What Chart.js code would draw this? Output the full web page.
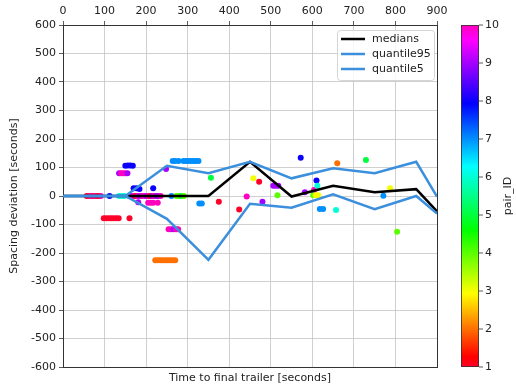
<!DOCTYPE html>
<html>
<head>
<meta charset="utf-8">
<script src="https://cdn.jsdelivr.net/npm/chart.js@4.4.1/dist/chart.umd.min.js"></script>
<style>
  body { margin: 0; background: #fff; }
  canvas { display: block; }
</style>
</head>
<body>
<canvas id="spacingChart" width="516" height="392"></canvas>
<script>
// Binned statistics (time to final trailer, seconds)
const binTimes = [0, 50, 150, 250, 350, 450, 550, 650, 750, 850, 900];
const medians = [0, 0, 0, 0, 0, 120, -2, 36, 13, 24, -54];
const quantile95 = [0, 0, 0, 106, 80, 120, 62, 97, 80, 120, -2];
const quantile5 = [0, 0, 0, -80, -224, -27, -41, 6, -46, 0, -62];

// Individual observations
const pointTime = [
    57, 62, 67, 72, 77, 82, 87, 91,
    112, 135, 142, 148,
    150, 156, 162, 168,
    135, 140, 145, 150, 155,
    170, 177, 184, 217,
    160, 165, 170, 175, 180, 185, 190, 195, 200, 205, 210, 215, 220, 225, 230, 235,
    261, 273, 279, 285, 291,
    181, 205, 211, 217, 228,
    98, 104, 110, 116, 122, 128, 134, 160,
    264, 270, 278, 290, 296, 302, 308, 314, 320, 326,
    248, 356,
    254, 260, 266, 272, 277,
    222, 228, 234, 240, 246, 252, 258, 264, 270,
    328, 334, 375, 424, 442,
    458, 472, 506, 512, 518, 516, 480,
    572, 660, 610, 604, 582, 612, 602, 608, 614, 618, 626, 657,
    729, 787, 771, 804
];
const pointDev = [
    0, 0, 0, 0, 0, 0, 0, 0,
    0, 0, 0, 0,
    106, 107, 107, 106,
    80, 80, 80, 80, 80,
    27, 27, 25, 27,
    0, 0, 0, 0, 0, 0, 0, 0, 0, 0, 0, 0, 0, 0, 0, 0,
    0, 0, 0, 0, 0,
    -22, -24, -24, -24, -24,
    -78, -78, -78, -78, -78, -78, -78, -78,
    123, 123, 123, 123, 123, 123, 123, 123, 123, 123,
    95, 64,
    -117, -117, -117, -117, -117,
    -225, -225, -225, -225, -225, -225, -225, -225, -225,
    -26, -26, -20, -47, -2,
    62, 50, 36, 36, 36, 3, -20,
    134, 115, 54, 21, 13, 36, 3, 3, 3, -46, -46, -49,
    126, 27, 1, -125
];
const pointPair = [
    1, 1, 10, 1, 10, 1, 1, 10,
    8, 6, 6, 6,
    8, 8, 8, 8,
    9, 10, 10, 10, 9,
    8, 8, 8, 8,
    10, 9, 10, 1, 10, 9, 10, 10, 9, 10, 1, 9, 10, 9, 9, 10,
    7, 4, 4, 5, 4,
    9, 10, 10, 10, 10,
    1, 1, 1, 1, 1, 1, 1, 1,
    7, 7, 7, 7, 7, 7, 7, 7, 7, 7,
    9, 5,
    10, 10, 9, 10, 10,
    2, 2, 2, 2, 2, 2, 2, 2, 2,
    7, 7, 1, 1, 10,
    3, 1, 9, 9, 9, 4, 9,
    8, 2, 8, 10, 9, 6, 4, 3, 3, 7, 7, 6,
    5, 3, 7, 4
];

const xTicks = [0, 100, 200, 300, 400, 500, 600, 700, 800, 900];
const cbarTicks = [1, 2, 3, 4, 5, 6, 7, 8, 9, 10];
const pairMin = 1, pairMax = 10;

// gist_rainbow colour stops
const rainbowStops = [
    [0.000, [1.00, 0.00, 0.16]],
    [0.030, [1.00, 0.00, 0.00]],
    [0.215, [1.00, 1.00, 0.00]],
    [0.400, [0.00, 1.00, 0.00]],
    [0.586, [0.00, 1.00, 1.00]],
    [0.770, [0.00, 0.00, 1.00]],
    [0.954, [1.00, 0.00, 1.00]],
    [1.000, [1.00, 0.00, 0.75]]
];

function rgbStr(c) {
    return 'rgb(' + c.map(v => Math.round(v * 255)).join(',') + ')';
}

function pairColor(p) {
    const t = Math.min(1, Math.max(0, (p - pairMin) / (pairMax - pairMin)));
    for (let i = 1; i < rainbowStops.length; i++) {
        const [t0, c0] = rainbowStops[i - 1];
        const [t1, c1] = rainbowStops[i];
        if (t <= t1) {
            const f = (t - t0) / (t1 - t0);
            return rgbStr(c0.map((v, k) => v + (c1[k] - v) * f));
        }
    }
    return rgbStr(rainbowStops[rainbowStops.length - 1][1]);
}

const LINE_BLUE = '#3c8fdc';
const AXIS_COLOR = '#333';
const TEXT_COLOR = '#222';

Chart.defaults.font.family = "'DejaVu Sans', sans-serif";
Chart.defaults.font.size = 11;
Chart.defaults.color = TEXT_COLOR;

// Right spine, legend box and colour bar
const decorPlugin = {
    id: 'decor',
    afterDraw(chart) {
        const ctx = chart.ctx;
        const area = chart.chartArea;

        ctx.save();
        ctx.strokeStyle = AXIS_COLOR;
        ctx.lineWidth = 1;
        ctx.beginPath();
        ctx.moveTo(area.right + 0.5, area.top);
        ctx.lineTo(area.right + 0.5, area.bottom);
        ctx.stroke();

        // legend
        const lineSets = chart.data.datasets.filter(ds => ds.showLine);
        const bx = 337, by = 30, bw = 97, bh = 50;
        ctx.fillStyle = 'rgba(255,255,255,0.85)';
        ctx.strokeStyle = '#d5d5d5';
        ctx.lineWidth = 1;
        ctx.beginPath();
        ctx.roundRect(bx + 0.5, by + 0.5, bw, bh, 3);
        ctx.fill();
        ctx.stroke();
        ctx.font = "11px 'DejaVu Sans', sans-serif";
        ctx.textBaseline = 'middle';
        ctx.textAlign = 'left';
        lineSets.forEach((ds, i) => {
            const ry = 39 + i * 15;
            ctx.strokeStyle = ds.borderColor;
            ctx.lineWidth = 2.5;
            ctx.beginPath();
            ctx.moveTo(341, ry);
            ctx.lineTo(365, ry);
            ctx.stroke();
            ctx.fillStyle = TEXT_COLOR;
            ctx.fillText(ds.label, 372, ry);
        });

        // colour bar
        const cx = 461, cw = 18, ctop = area.top, cbot = area.bottom;
        const grad = ctx.createLinearGradient(0, cbot, 0, ctop);
        rainbowStops.forEach(([t, c]) => grad.addColorStop(t, rgbStr(c)));
        ctx.fillStyle = grad;
        ctx.fillRect(cx, ctop, cw, cbot - ctop);
        ctx.strokeStyle = AXIS_COLOR;
        ctx.lineWidth = 0.8;
        ctx.strokeRect(cx + 0.5, ctop + 0.5, cw - 1, cbot - ctop - 1);
        ctx.fillStyle = TEXT_COLOR;
        ctx.textAlign = 'left';
        cbarTicks.forEach(v => {
            const ty = cbot - (v - pairMin) / (pairMax - pairMin) * (cbot - ctop);
            ctx.beginPath();
            ctx.moveTo(cx + cw, ty);
            ctx.lineTo(cx + cw + 4, ty);
            ctx.stroke();
            ctx.fillText(String(v), cx + cw + 6, ty);
        });
        ctx.translate(508, (ctop + cbot) / 2);
        ctx.rotate(-Math.PI / 2);
        ctx.textAlign = 'center';
        ctx.fillText('pair_ID', 0, 0);
        ctx.restore();
    }
};

const toPoints = ys => binTimes.map((t, i) => ({ x: t, y: ys[i] }));

const ctx = document.getElementById('spacingChart').getContext('2d');
new Chart(ctx, {
    type: 'scatter',
    data: {
        datasets: [
            {
                label: 'medians',
                data: toPoints(medians),
                showLine: true,
                borderColor: '#000',
                borderWidth: 2.5,
                pointRadius: 0,
                order: 2
            },
            {
                label: 'quantile95',
                data: toPoints(quantile95),
                showLine: true,
                borderColor: LINE_BLUE,
                borderWidth: 2.5,
                pointRadius: 0,
                order: 1
            },
            {
                label: 'quantile5',
                data: toPoints(quantile5),
                showLine: true,
                borderColor: LINE_BLUE,
                borderWidth: 2.5,
                pointRadius: 0,
                order: 0
            },
            {
                label: 'pairs',
                data: pointTime.map((t, i) => ({ x: t, y: pointDev[i] })),
                pointBackgroundColor: pointPair.map(pairColor),
                pointBorderWidth: 0,
                pointRadius: 3,
                order: 3
            }
        ]
    },
    options: {
        responsive: false,
        animation: false,
        devicePixelRatio: 1,
        layout: { padding: { right: 79 } },
        plugins: {
            legend: { display: false },
            tooltip: { enabled: false }
        },
        scales: {
            x: {
                type: 'linear',
                position: 'top',
                min: 0,
                max: 900,
                afterBuildTicks: s => { s.ticks = xTicks.map(v => ({ value: v })); },
                afterFit: s => { s.height = 25; },
                ticks: { padding: 3, color: TEXT_COLOR, maxRotation: 0 },
                grid: { color: '#c4c4c4', lineWidth: 0.8, tickLength: 4, tickColor: AXIS_COLOR },
                border: { color: AXIS_COLOR, width: 1 }
            },
            xb: {
                type: 'linear',
                axis: 'x',
                position: 'bottom',
                min: 0,
                max: 900,
                afterFit: s => { s.height = 25; },
                ticks: { display: false },
                grid: { display: false },
                border: { color: AXIS_COLOR, width: 1 },
                title: {
                    display: true,
                    text: 'Time to final trailer [seconds]',
                    color: TEXT_COLOR,
                    padding: { top: 0, bottom: 7 }
                }
            },
            y: {
                min: -600,
                max: 600,
                afterFit: s => { s.width = 63; },
                ticks: { stepSize: 100, padding: 3, color: TEXT_COLOR },
                grid: { color: '#c4c4c4', lineWidth: 0.8, tickLength: 4, tickColor: AXIS_COLOR },
                border: { color: AXIS_COLOR, width: 1 },
                title: {
                    display: true,
                    text: 'Spacing deviation [seconds]',
                    color: TEXT_COLOR,
                    padding: { top: 8, bottom: 0 }
                }
            }
        }
    },
    plugins: [decorPlugin]
});
</script>
</body>
</html>
